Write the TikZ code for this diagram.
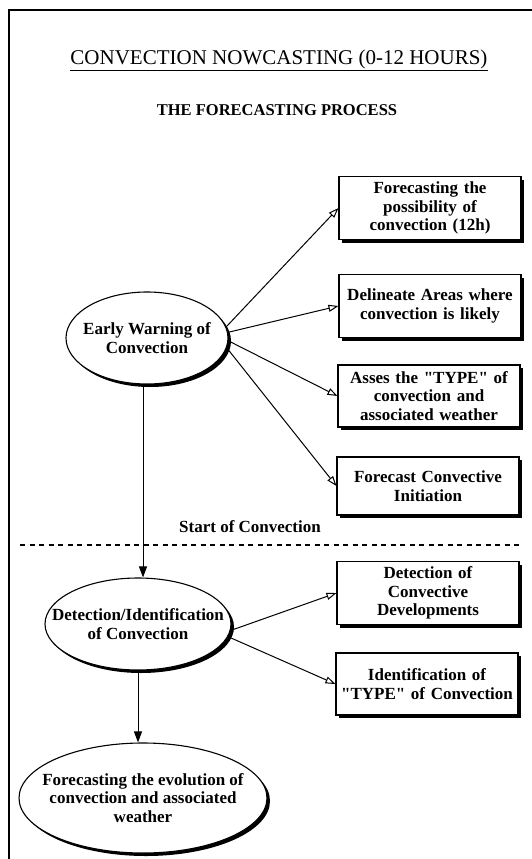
\documentclass[tikz,border=0pt]{standalone}
\usepackage{fontspec}
\setmainfont{Liberation Serif}
\usetikzlibrary{arrows.meta,shapes.geometric,shadows}
\newcommand{\qt}[1]{\textquotedbl#1\textquotedbl}
\begin{document}
\begin{tikzpicture}[x=1pt,y=-1pt,
  every node/.style={font=\bfseries\fontsize{17}{18.5}\selectfont, text=black},
  stepbox/.style={draw, line width=1.1pt, fill=white, align=center, inner sep=2pt,
    minimum width=182pt, text width=178pt,
    drop shadow={shadow xshift=3pt, shadow yshift=-3pt, fill=black, opacity=1}},
  stage/.style={ellipse, draw, line width=1.1pt, fill=white, inner sep=0pt,
    drop shadow={shadow xshift=3pt, shadow yshift=-3pt, fill=black, opacity=1}},
  stagetext/.style={align=center, inner sep=0pt},
  branch/.style={-{Triangle[open,length=10pt,width=7pt]}, line width=1pt},
  flow/.style={-{Triangle[length=11pt,width=8pt]}, line width=1pt},
  heading/.style={font=\fontsize{21}{24}\selectfont},
  subheading/.style={font=\bfseries\fontsize{16.5}{20}\selectfont}]
\useasboundingbox (0,0) rectangle (532,859);

% page frame
\draw[line width=1.5pt] (9,859) -- (9,10) -- (532,10);

% headings
\node[heading] (title) at (279,60) {\underline{CONVECTION NOWCASTING (0-12 HOURS)}};
\node[subheading] (sub) at (277,110) {THE FORECASTING PROCESS};

% stages (fixed-size ellipses, text laid over the centre)
\node[stage, minimum width=162pt, minimum height=92pt,
  label={[stagetext]center:Early Warning of\\Convection}] (warn) at (147,338) {};
\node[stage, minimum width=186pt, minimum height=92pt,
  label={[stagetext]center:Detection/Identification\\of Convection}] (detect) at (138,624) {};
\node[stage, minimum width=248pt, minimum height=110pt,
  label={[stagetext]center:Forecasting the evolution of\\convection and associated\\weather}] (evol) at (143,798) {};

% tasks
\node[stepbox, minimum height=63pt] (b1) at (430,208) {Forecasting the\\possibility of\\convection (12h)};
\node[stepbox, minimum height=63pt] (b2) at (430,306) {Delineate Areas where\\convection is likely};
\node[stepbox, minimum height=62pt] (b3) at (429,396) {Asses the \qt{TYPE} of\\convection and\\associated weather};
\node[stepbox, minimum height=58pt] (b4) at (428,486) {Forecast Convective\\Initiation};
\node[stepbox, minimum height=63pt] (b5) at (428,593) {Detection of\\Convective\\Developments};
\node[stepbox, minimum height=62pt] (b6) at (427,684) {Identification of\\\qt{TYPE} of Convection};

% start of convection marker
\node (start) at (250,527) {Start of Convection};
\coordinate (dl) at (20,545);
\coordinate (dr) at (522,545);
\draw[line width=1.2pt, dash pattern=on 5pt off 4.5pt] (dl) -- (dr);

% connectors
\draw[branch] (warn.8) -- (b1.west);
\draw[branch] (warn.4) -- (b2.west);
\draw[branch] (warn.-2) -- (b3.west);
\draw[branch] (warn.-7) -- (b4.west);
\draw[branch] (detect.-4) -- (b5.west);
\draw[branch] (detect.-8) -- (b6.west);
\draw[flow] ([xshift=-4pt]warn.south) -- ([xshift=-4pt]warn.south |- detect.north);
\draw[flow] (detect.south) -- (detect.south |- evol.north);
\end{tikzpicture}
\end{document}
